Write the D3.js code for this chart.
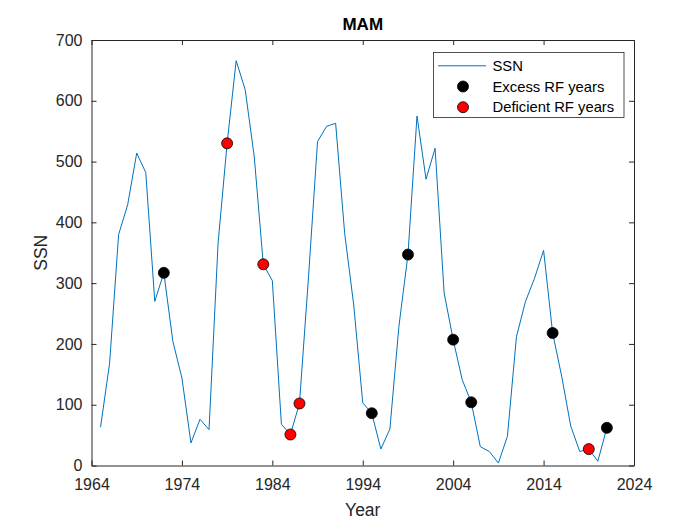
<!DOCTYPE html>
<html>
<head>
<meta charset="utf-8">
<script src="https://cdn.jsdelivr.net/npm/d3@7"></script>
<style>
  body { margin: 0; background: #fff; }
  text { font-family: "Liberation Sans", Arial, sans-serif; }
</style>
</head>
<body>
<script>
// SSN, MAM season, 1965-2021
var years = d3.range(1965, 2022);
var ssn = [63, 168, 380, 429, 514, 482, 270, 317, 204, 144,
           37, 76, 59, 366, 530, 666, 618, 508, 331, 304,
           68, 51, 102, 310, 533, 558, 563, 382, 264, 103,
           86, 27, 60, 229, 347, 575, 471, 522, 284, 207,
           141, 104, 31, 23, 4, 48, 212, 270, 308, 354,
           218, 147, 65, 23, 27, 7, 62];
var excessYears = [1972, 1995, 1999, 2004, 2006, 2015, 2021];
var deficientYears = [1979, 1983, 1986, 1987, 2019];
var xTicks = [1964, 1974, 1984, 1994, 2004, 2014, 2024];
var yTicks = [0, 100, 200, 300, 400, 500, 600, 700];

var width = 700, height = 525;
var margin = {left: 91.5, right: 66, top: 40, bottom: 59.5};
var svg = d3.select("body").append("svg").attr("width", width).attr("height", height);

var x = d3.scaleLinear().domain([1964, 2024]).range([margin.left, width - margin.right]);
var y = d3.scaleLinear().domain([0, 700]).range([height - margin.bottom, margin.top]);

var data = years.map(function(d, i){ return {year: d, value: ssn[i]}; });
var valueOf = function(yr){ return ssn[years.indexOf(yr)]; };

var tickColor = "#262626";
var g = svg.append("g");

// axes with inward ticks, box on all sides
function styleAxis(a){
    a.select(".domain").attr("stroke", tickColor);
    a.selectAll("line").attr("stroke", tickColor);
    a.selectAll("text").attr("fill", tickColor).style("font-size", "16px");
}
g.append("g")
    .attr("transform", "translate(0," + y(0) + ")")
    .call(d3.axisBottom(x).tickValues(xTicks).tickFormat(d3.format("d")).tickSizeInner(-5).tickSizeOuter(0).tickPadding(13))
    .call(styleAxis);
g.append("g")
    .attr("transform", "translate(0," + y(700) + ")")
    .call(d3.axisTop(x).tickValues(xTicks).tickFormat("").tickSizeInner(-5).tickSizeOuter(0))
    .call(styleAxis);
g.append("g")
    .attr("transform", "translate(" + x(1964) + ",0)")
    .call(d3.axisLeft(y).tickValues(yTicks).tickSizeInner(-5).tickSizeOuter(0).tickPadding(9))
    .call(styleAxis);
g.append("g")
    .attr("transform", "translate(" + x(2024) + ",0)")
    .call(d3.axisRight(y).tickValues(yTicks).tickFormat("").tickSizeInner(-5).tickSizeOuter(0))
    .call(styleAxis);

// line
var line = d3.line()
    .x(function(d){ return x(d.year); })
    .y(function(d){ return y(d.value); });
g.append("path")
    .datum(data)
    .attr("fill", "none")
    .attr("stroke", "#0072BD")
    .attr("stroke-width", 1)
    .attr("d", line);

// markers
g.selectAll(".excess").data(excessYears).enter().append("circle")
    .attr("class", "excess")
    .attr("cx", function(d){ return x(d); })
    .attr("cy", function(d){ return y(valueOf(d)); })
    .attr("r", 5.5)
    .attr("fill", "#000")
    .attr("stroke", "#000")
    .attr("stroke-width", 0.8);
g.selectAll(".deficient").data(deficientYears).enter().append("circle")
    .attr("class", "deficient")
    .attr("cx", function(d){ return x(d); })
    .attr("cy", function(d){ return y(valueOf(d)); })
    .attr("r", 5.5)
    .attr("fill", "#ff0000")
    .attr("stroke", "#000")
    .attr("stroke-width", 0.8);

// title and labels
svg.append("text")
    .attr("x", (x(1964) + x(2024)) / 2).attr("y", 30)
    .attr("text-anchor", "middle")
    .style("font-size", "17px").style("font-weight", "bold")
    .attr("fill", "#000")
    .text("MAM");
svg.append("text")
    .attr("x", (x(1964) + x(2024)) / 2).attr("y", 516)
    .attr("text-anchor", "middle")
    .style("font-size", "17.5px")
    .attr("fill", tickColor)
    .text("Year");
svg.append("text")
    .attr("transform", "rotate(-90)")
    .attr("x", -(y(0) + y(700)) / 2).attr("y", 47)
    .attr("text-anchor", "middle")
    .style("font-size", "17.5px")
    .attr("fill", tickColor)
    .text("SSN");

// legend
var legend = svg.append("g").attr("transform", "translate(433.5,52.5)");
legend.append("rect")
    .attr("width", 190.5).attr("height", 65)
    .attr("fill", "#fff").attr("stroke", tickColor).attr("stroke-width", 0.8);
var items = [
  {label: "SSN", type: "line"},
  {label: "Excess RF years", type: "dot", fill: "#000"},
  {label: "Deficient RF years", type: "dot", fill: "#ff0000"}
];
items.forEach(function(it, i){
    var cy = 13.3 + i * 20.7;
    if(it.type == "line"){
        legend.append("line")
            .attr("x1", 4.5).attr("x2", 52.5).attr("y1", cy).attr("y2", cy)
            .attr("stroke", "#0072BD").attr("stroke-width", 1);
    }else{
        legend.append("circle")
            .attr("cx", 29.5).attr("cy", cy).attr("r", 5.5)
            .attr("fill", it.fill).attr("stroke", "#000").attr("stroke-width", 0.8);
    }
    legend.append("text")
        .attr("x", 59).attr("y", cy).attr("dy", "0.35em")
        .style("font-size", "14.8px").attr("fill", "#000")
        .text(it.label);
});
</script>
</body>
</html>
